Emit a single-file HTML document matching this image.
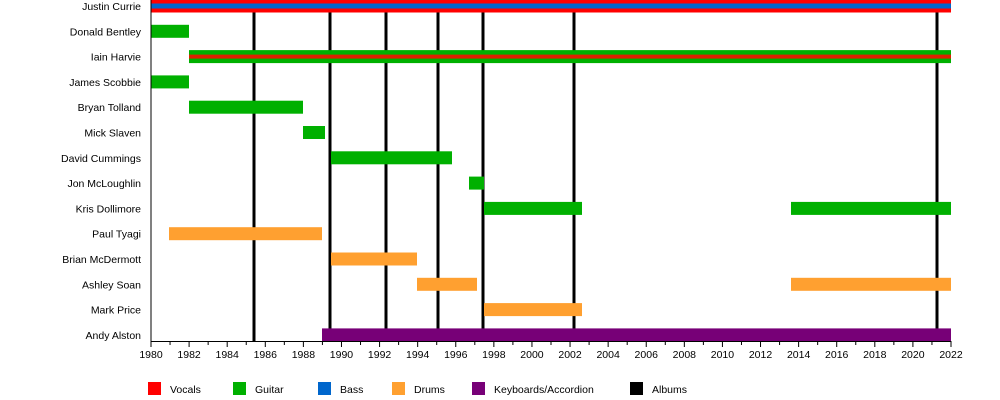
<!DOCTYPE html>
<html><head><meta charset="utf-8"><style>
html,body{margin:0;padding:0;background:#fff;width:1000px;height:400px;overflow:hidden}
text{font-family:"Liberation Sans",sans-serif;font-size:10.5px;fill:#000}
</style></head><body>
<svg width="1000" height="400" xmlns="http://www.w3.org/2000/svg">
<g fill="#000">
<rect x="252.5" y="0" width="3" height="341"/>
<rect x="328.5" y="0" width="3" height="341"/>
<rect x="384.5" y="0" width="3" height="341"/>
<rect x="436.5" y="0" width="3" height="341"/>
<rect x="481.5" y="0" width="3" height="341"/>
<rect x="572.5" y="0" width="3" height="341"/>
<rect x="935.5" y="0" width="3" height="341"/>
</g>
<!-- bars: centers 6+25.3*i -->
<rect x="151" y="-0.5" width="800" height="13" fill="#ff0000"/>
<rect x="151" y="3.5" width="800" height="5" fill="#0066cc"/>
<rect x="151" y="24.8" width="38" height="13" fill="#00b000"/>
<rect x="189" y="50.1" width="762" height="13" fill="#00b000"/>
<rect x="189" y="54.6" width="762" height="4" fill="#dd2200"/>
<rect x="151" y="75.4" width="38" height="13" fill="#00b000"/>
<rect x="189" y="100.7" width="114" height="13" fill="#00b000"/>
<rect x="303" y="126" width="22" height="13" fill="#00b000"/>
<rect x="331" y="151.3" width="121" height="13" fill="#00b000"/>
<rect x="469" y="176.6" width="15" height="13" fill="#00b000"/>
<rect x="484" y="201.9" width="98" height="13" fill="#00b000"/>
<rect x="791" y="201.9" width="160" height="13" fill="#00b000"/>
<rect x="169" y="227.2" width="153" height="13" fill="#ffa030"/>
<rect x="331" y="252.5" width="86" height="13" fill="#ffa030"/>
<rect x="417" y="277.8" width="60" height="13" fill="#ffa030"/>
<rect x="791" y="277.8" width="160" height="13" fill="#ffa030"/>
<rect x="484" y="303.1" width="98" height="13" fill="#ffa030"/>
<rect x="322" y="328.4" width="629" height="13" fill="#770077"/>
<g text-anchor="end">
<text x="141" y="10">Justin Currie</text>
<text x="141" y="35.3">Donald Bentley</text>
<text x="141" y="60.6">Iain Harvie</text>
<text x="141" y="85.9">James Scobbie</text>
<text x="141" y="111.2">Bryan Tolland</text>
<text x="141" y="136.5">Mick Slaven</text>
<text x="141" y="161.8">David Cummings</text>
<text x="141" y="187.1">Jon McLoughlin</text>
<text x="141" y="212.4">Kris Dollimore</text>
<text x="141" y="237.7">Paul Tyagi</text>
<text x="141" y="263">Brian McDermott</text>
<text x="141" y="288.3">Ashley Soan</text>
<text x="141" y="313.6">Mark Price</text>
<text x="141" y="338.9">Andy Alston</text>
</g>
<rect x="150.5" y="0" width="1" height="342" fill="#000"/>
<rect x="150.5" y="341" width="801" height="1" fill="#000"/>
<g id="ticks" fill="#000"></g>
<g id="labs" text-anchor="middle"></g>
<g>
<rect x="148" y="382" width="13" height="13" fill="#ff0000"/><text x="170" y="393">Vocals</text>
<rect x="233" y="382" width="13" height="13" fill="#00b000"/><text x="255" y="393">Guitar</text>
<rect x="318" y="382" width="13" height="13" fill="#0066cc"/><text x="340" y="393">Bass</text>
<rect x="392" y="382" width="13" height="13" fill="#ffa030"/><text x="414" y="393">Drums</text>
<rect x="472" y="382" width="13" height="13" fill="#770077"/><text x="494" y="393">Keyboards/Accordion</text>
<rect x="630" y="382" width="13" height="13" fill="#000"/><text x="652" y="393">Albums</text>
</g>
</svg>
<script>
var t=document.getElementById('ticks'),l=document.getElementById('labs'),ns='http://www.w3.org/2000/svg';
for(var y=0;y<=42;y++){var x=151+y*800/42;var r=document.createElementNS(ns,'rect');r.setAttribute('x',x-0.5);r.setAttribute('y',341);r.setAttribute('width',1);r.setAttribute('height',y%2?4:6);t.appendChild(r);
if(y%2==0){var s=document.createElementNS(ns,'text');s.setAttribute('x',x);s.setAttribute('y',358);s.textContent=1980+y;l.appendChild(s);}}
</script>
</body></html>
